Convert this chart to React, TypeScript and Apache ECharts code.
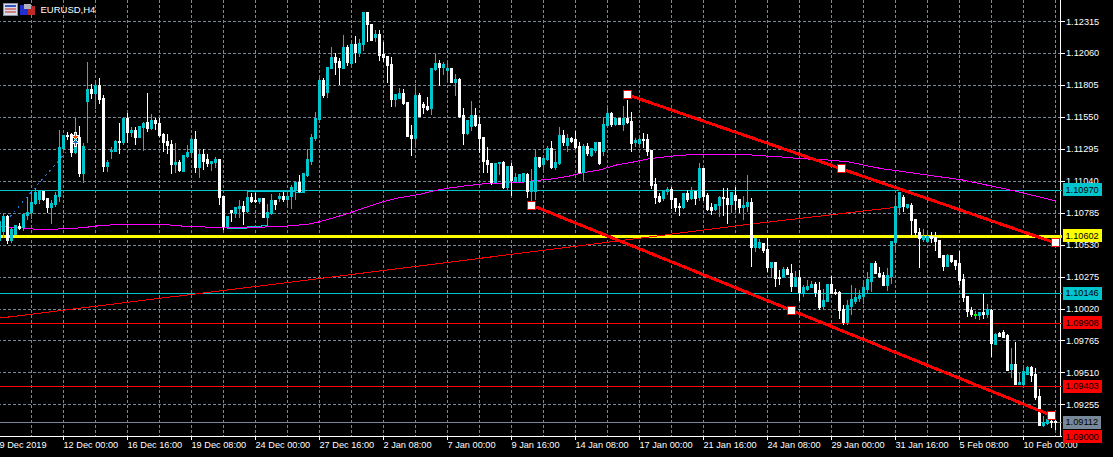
import React, { useEffect, useRef } from "react";
import * as echarts from "echarts";

const tickLabels = ["9 Dec 2019","12 Dec 00:00","16 Dec 16:00","19 Dec 08:00","24 Dec 00:00","27 Dec 16:00","2 Jan 08:00","7 Jan 00:00","9 Jan 16:00","14 Jan 08:00","17 Jan 00:00","21 Jan 16:00","24 Jan 08:00","29 Jan 00:00","31 Jan 16:00","5 Feb 08:00","10 Feb 00:00"];

const opens = [
1.10562,1.10634,1.10754,1.10562,1.10610,1.10674,1.10666,1.10762,1.10786,1.10858,
1.10890,1.10954,1.10898,1.10826,1.10850,1.10914,1.11298,1.11402,1.11410,1.11266,
1.11386,1.11098,1.11674,1.11770,1.11738,1.11802,1.11698,1.11154,1.11274,1.11274,
1.11354,1.11346,1.11538,1.11426,1.11442,1.11386,1.11466,1.11506,1.11458,1.11522,
1.11498,1.11410,1.11354,1.11330,1.11170,1.11186,1.11114,1.11234,1.11266,1.11370,
1.11146,1.11250,1.11210,1.11178,1.11186,1.11210,1.10914,1.10674,1.10802,1.10778,
1.10818,1.10834,1.10794,1.10906,1.10882,1.10874,1.10898,1.10746,1.10778,1.10882,
1.10898,1.10914,1.10890,1.10914,1.10970,1.11026,1.10946,1.11082,1.11194,1.11378,
1.11530,1.11842,1.11746,1.11938,1.12026,1.11994,1.11938,1.12106,1.11978,1.12130,
1.12058,1.12130,1.12386,1.12290,1.12186,1.12210,1.12050,1.12034,1.11970,1.11690,
1.11698,1.11738,1.11666,1.11402,1.11378,1.11722,1.11650,1.11634,1.11618,1.11930,
1.11978,1.11946,1.11922,1.11938,1.11826,1.11850,1.11562,1.11418,1.11474,1.11562,
1.11490,1.11386,1.11202,1.11178,1.11026,1.11178,1.11186,1.10986,1.11154,1.11034,
1.11034,1.11034,1.11090,1.10954,1.10954,1.11226,1.11170,1.11210,1.11298,1.11146,
1.11178,1.11402,1.11322,1.11378,1.11370,1.11314,1.11106,1.11314,1.11242,1.11282,
1.11346,1.11274,1.11482,1.11578,1.11490,1.11538,1.11490,1.11538,1.11514,1.11346,
1.11338,1.11370,1.11370,1.11282,1.11010,1.10914,1.10898,1.10954,1.10970,1.10898,
1.10834,1.10826,1.10938,1.10898,1.10954,1.10906,1.11138,1.10922,1.10826,1.10810,
1.10842,1.10906,1.10898,1.10850,1.10922,1.10890,1.10826,1.10834,1.10866,1.10506,
1.10506,1.10538,1.10490,1.10354,1.10386,1.10274,1.10274,1.10338,1.10306,1.10202,
1.10274,1.10154,1.10178,1.10194,1.10218,1.10170,1.10042,1.10082,1.10218,1.10154,
1.10154,1.10018,1.09914,1.10042,1.10082,1.10106,1.10122,1.10178,1.10242,1.10378,
1.10306,1.10290,1.10210,1.10282,1.10546,1.10826,1.10906,1.10826,1.10842,1.10730,
1.10626,1.10570,1.10554,1.10594,1.10586,1.10562,1.10442,1.10362,1.10442,1.10402,
1.10378,1.10258,1.10122,1.10010,1.09970,1.09970,1.09994,1.09978,1.10010,1.09738,
1.09826,1.09834,1.09810,1.09538,1.09578,1.09418,1.09418,1.09498,1.09554,1.09498,
1.09322,1.09090,1.09106,1.09122,1.09122];

const closes = [
1.10714,1.10754,1.10562,1.10650,1.10682,1.10658,1.10770,1.10786,1.10866,1.10946,
1.10954,1.10890,1.10826,1.10858,1.10922,1.11306,1.11402,1.11394,1.11266,1.11370,
1.11098,1.11314,1.11770,1.11738,1.11802,1.11690,1.11154,1.11186,1.11282,1.11354,
1.11346,1.11538,1.11426,1.11442,1.11386,1.11474,1.11498,1.11458,1.11522,1.11498,
1.11402,1.11346,1.11322,1.11170,1.11186,1.11122,1.11242,1.11266,1.11370,1.11146,
1.11250,1.11194,1.11178,1.11194,1.11210,1.10906,1.10674,1.10754,1.10786,1.10826,
1.10834,1.10794,1.10906,1.10874,1.10874,1.10898,1.10746,1.10786,1.10882,1.10850,
1.10914,1.10890,1.10914,1.10986,1.11026,1.10954,1.11098,1.11210,1.11386,1.11538,
1.11842,1.11722,1.11946,1.12026,1.11986,1.11946,1.12106,1.11986,1.12130,1.12066,
1.12138,1.12386,1.12290,1.12162,1.12210,1.12042,1.12026,1.11962,1.11690,1.11730,
1.11738,1.11658,1.11394,1.11378,1.11722,1.11554,1.11626,1.11610,1.11938,1.11978,
1.11946,1.11970,1.11938,1.11826,1.11850,1.11554,1.11418,1.11522,1.11562,1.11482,
1.11378,1.11194,1.11170,1.11026,1.11178,1.11186,1.10986,1.11154,1.11042,1.11066,
1.11090,1.11098,1.10954,1.11034,1.11226,1.11154,1.11218,1.11298,1.11146,1.11186,
1.11402,1.11346,1.11378,1.11354,1.11306,1.11106,1.11314,1.11258,1.11298,1.11346,
1.11178,1.11490,1.11578,1.11490,1.11538,1.11490,1.11538,1.11506,1.11338,1.11362,
1.11370,1.11362,1.11274,1.11002,1.10906,1.10874,1.10954,1.10970,1.10890,1.10826,
1.10826,1.10938,1.10890,1.10954,1.10898,1.11138,1.10914,1.10810,1.10802,1.10850,
1.10906,1.10898,1.10850,1.10946,1.10882,1.10826,1.10842,1.10866,1.10506,1.10578,
1.10546,1.10482,1.10354,1.10386,1.10266,1.10266,1.10338,1.10298,1.10202,1.10274,
1.10154,1.10194,1.10202,1.10218,1.10154,1.10034,1.10090,1.10218,1.10146,1.10146,
1.10010,1.09914,1.10050,1.10098,1.10114,1.10130,1.10194,1.10258,1.10378,1.10306,
1.10282,1.10210,1.10290,1.10554,1.10834,1.10946,1.10834,1.10850,1.10722,1.10626,
1.10578,1.10594,1.10594,1.10578,1.10554,1.10426,1.10362,1.10442,1.10394,1.10370,
1.10250,1.10114,1.10002,1.09978,1.09978,1.09994,1.09978,1.10018,1.09746,1.09818,
1.09802,1.09794,1.09530,1.09578,1.09418,1.09434,1.09522,1.09554,1.09490,1.09314,
1.09090,1.09114,1.09138,1.09114,1.09112];

const lows = [
1.10530,1.10586,1.10538,1.10546,1.10610,1.10650,1.10642,1.10730,1.10738,1.10850,
1.10858,1.10882,1.10786,1.10698,1.10834,1.10874,1.11290,1.11370,1.11234,1.11258,
1.11074,1.11026,1.11346,1.11698,1.11618,1.11658,1.11114,1.11114,1.11218,1.11274,
1.11258,1.11330,1.11346,1.11394,1.11330,1.11386,1.11282,1.11434,1.11450,1.11450,
1.11394,1.11274,1.11258,1.11098,1.11106,1.11114,1.11114,1.11226,1.11234,1.11106,
1.11066,1.11130,1.11154,1.11122,1.11146,1.10850,1.10650,1.10666,1.10714,1.10746,
1.10746,1.10690,1.10786,1.10866,1.10866,1.10858,1.10746,1.10682,1.10770,1.10810,
1.10874,1.10874,1.10826,1.10818,1.10890,1.10946,1.10946,1.11074,1.11170,1.11362,
1.11522,1.11706,1.11706,1.11938,1.11890,1.11810,1.11938,1.11962,1.11970,1.11986,
1.12034,1.12082,1.12154,1.12162,1.12154,1.12002,1.11994,1.11826,1.11634,1.11634,
1.11698,1.11650,1.11394,1.11242,1.11330,1.11554,1.11578,1.11602,1.11570,1.11922,
1.11802,1.11890,1.11850,1.11826,1.11722,1.11546,1.11330,1.11410,1.11442,1.11474,
1.11266,1.11106,1.11106,1.11010,1.11018,1.11090,1.10978,1.10962,1.10922,1.11026,
1.11026,1.11026,1.10906,1.10882,1.10890,1.11146,1.11122,1.11202,1.11138,1.11130,
1.11170,1.11322,1.11274,1.11346,1.11298,1.11098,1.11034,1.11242,1.11234,1.11266,
1.11170,1.11242,1.11474,1.11474,1.11482,1.11490,1.11442,1.11498,1.11274,1.11314,
1.11330,1.11306,1.11242,1.10978,1.10858,1.10866,1.10882,1.10930,1.10818,1.10794,
1.10762,1.10818,1.10874,1.10890,1.10850,1.10882,1.10882,1.10802,1.10770,1.10802,
1.10754,1.10762,1.10698,1.10786,1.10810,1.10786,1.10730,1.10794,1.10354,1.10474,
1.10498,1.10466,1.10314,1.10266,1.10194,1.10210,1.10266,1.10290,1.10154,1.10194,
1.10082,1.10114,1.10162,1.10186,1.10114,1.10010,1.10010,1.10074,1.10146,1.10130,
1.09938,1.09890,1.09890,1.09970,1.10058,1.10074,1.10058,1.10146,1.10154,1.10306,
1.10266,1.10202,1.10162,1.10218,1.10466,1.10770,1.10794,1.10818,1.10586,1.10586,
1.10346,1.10554,1.10554,1.10546,1.10482,1.10426,1.10322,1.10354,1.10386,1.10330,
1.10210,1.10074,1.09954,1.09954,1.09938,1.09930,1.09938,1.09946,1.09634,1.09730,
1.09794,1.09794,1.09522,1.09466,1.09410,1.09410,1.09410,1.09490,1.09434,1.09290,
1.09082,1.09074,1.09090,1.09066,1.09050];

const highs = [
1.10746,1.10778,1.10770,1.10666,1.10690,1.10706,1.10786,1.10914,1.10954,1.10986,
1.10954,1.10954,1.10906,1.10890,1.10954,1.11450,1.11410,1.11434,1.11426,1.11546,
1.11482,1.11346,1.11994,1.11818,1.11826,1.11866,1.11730,1.11210,1.11314,1.11370,
1.11506,1.11538,1.11586,1.11474,1.11474,1.11482,1.11514,1.11746,1.11578,1.11546,
1.11546,1.11426,1.11418,1.11370,1.11346,1.11210,1.11250,1.11330,1.11394,1.11442,
1.11290,1.11298,1.11258,1.11202,1.11234,1.11218,1.10914,1.10754,1.10810,1.10834,
1.10890,1.10882,1.10954,1.10946,1.10946,1.10898,1.10898,1.10858,1.10938,1.10882,
1.10946,1.10954,1.10970,1.11010,1.11042,1.11090,1.11098,1.11298,1.11418,1.11594,
1.11866,1.11866,1.11946,1.12114,1.12066,1.12026,1.12210,1.12130,1.12154,1.12202,
1.12178,1.12386,1.12394,1.12290,1.12250,1.12250,1.12154,1.12042,1.12034,1.11738,
1.11786,1.11778,1.11666,1.11490,1.11818,1.11746,1.11674,1.11714,1.11938,1.12058,
1.12010,1.11994,1.11986,1.11946,1.11898,1.11866,1.11626,1.11530,1.11682,1.11626,
1.11554,1.11386,1.11314,1.11186,1.11186,1.11194,1.11202,1.11162,1.11186,1.11106,
1.11098,1.11098,1.11106,1.11138,1.11298,1.11234,1.11234,1.11322,1.11362,1.11282,
1.11474,1.11450,1.11418,1.11394,1.11442,1.11354,1.11338,1.11346,1.11306,1.11346,
1.11346,1.11554,1.11634,1.11594,1.11538,1.11538,1.11642,1.11690,1.11594,1.11386,
1.11394,1.11426,1.11418,1.11282,1.11066,1.10946,1.10970,1.10994,1.10994,1.10906,
1.10866,1.10946,1.10970,1.10994,1.10954,1.11186,1.11138,1.10946,1.10866,1.10858,
1.10922,1.10986,1.10986,1.10954,1.10994,1.10898,1.10922,1.11090,1.10906,1.10586,
1.10578,1.10546,1.10594,1.10394,1.10394,1.10330,1.10354,1.10354,1.10378,1.10322,
1.10330,1.10210,1.10250,1.10242,1.10234,1.10234,1.10178,1.10218,1.10282,1.10178,
1.10162,1.10050,1.10090,1.10210,1.10186,1.10170,1.10242,1.10314,1.10386,1.10402,
1.10354,1.10314,1.10346,1.10554,1.10914,1.10954,1.10930,1.10858,1.10866,1.10738,
1.10666,1.10658,1.10626,1.10634,1.10634,1.10570,1.10442,1.10458,1.10450,1.10410,
1.10482,1.10298,1.10122,1.10034,1.10002,1.09994,1.10138,1.10058,1.10018,1.09826,
1.09834,1.09850,1.09818,1.09706,1.09754,1.09506,1.09570,1.09562,1.09562,1.09546,
1.09378,1.09162,1.09154,1.09170,1.09146];

const oddBarIndex = 244;

const maBars = [0.1,3.9,8.9,16.4,21.4,25.1,30.1,41.4,46.4,52.6,58.1,65.1,71.4,75.1,77.6,80.1,83.4,87.6,91.9,95.9,100.1,104.4,108.4,112.6,116.9,120.9,125.1,129.4,133.4,137.6,141.9,145.9,150.1,154.4,158.4,162.6,166.9,170.9,179.4,187.6,191.9,195.9,200.1,207.6,212.6,216.9,220.9,225.1,232.6,240.6,252.6,263.9];
const maValues = [1.10676,1.10672,1.10656,1.10658,1.10670,1.10685,1.10694,1.10693,1.10679,1.10672,1.10666,1.10672,1.10680,1.10690,1.10698,1.10716,1.10746,1.10786,1.10834,1.10876,1.10908,1.10930,1.10962,1.10986,1.11004,1.11018,1.11024,1.11028,1.11042,1.11056,1.11076,1.11108,1.11130,1.11170,1.11192,1.11220,1.11236,1.11248,1.11256,1.11250,1.11240,1.11232,1.11220,1.11208,1.11192,1.11162,1.11138,1.11120,1.11086,1.11050,1.10970,1.10884];

const thinRedBars = [0.1,75.1,150.1,187.6,226];
const thinRedValues = [1.09946,1.10242,1.10544,1.10696,1.10838];

const dottedBars = [2.6,17.1];
const dottedValues = [1.10756,1.11290];

const stepABars = [56.95,61.9,61.9,65.4,65.4,67.05,67.05];
const stepAValues = [1.10664,1.10664,1.10674,1.10674,1.10684,1.10684,1.10788];
const stepBBars = [61.95,61.95,69.1,69.1,76.25,76.25];
const stepBValues = [1.10796,1.10956,1.10956,1.10952,1.10952,1.11094];

const upperBars = [157,210.5,264];
const upperValues = [1.1173,1.11138,1.10546];
const lowerBars = [133,198,263];
const lowerValues = [1.10848,1.10008,1.09168];

const levelValues = [1.1097,1.10602,1.10146,1.09908,1.09403,1.09112,1.09];
const levelColors = ["#00C5CC","#FFFF00","#00C5CC","#FF0000","#FF0000","#778899","#FF0000"];
const levelWidths = [1,3,1,1,1,1,0];

const sellArrow = [19,1.11402];
const buyArrow = [19,1.11344];

const CYAN = "#00C5CC";
const GRID = "#778899";
const FONT = "Liberation Sans";
const ARROW_UP = "path://M4 0L8 4L5.5 4L5.5 8L2.5 8L2.5 4L0 4Z";
const ARROW_DOWN = "path://M4 8L8 4L5.5 4L5.5 0L2.5 0L2.5 4L0 4Z";

function pairs(xs: number[], ys: number[]) {
  return xs.map((x, i) => [x, ys[i]]);
}

export default function App() {
  const ref = useRef<HTMLDivElement>(null);
  useEffect(() => {
    document.body.style.margin = "0";
    document.body.style.background = "#000";
    const chart = echarts.init(ref.current!, undefined, { renderer: "svg" });
    const categories = Array.from({ length: 266 }, (_, i) => (i % 16 === 0 ? tickLabels[i / 16] ?? "" : ""));
    const candles = opens.map((o, i) => {
      const value = [o, closes[i], lows[i], highs[i]];
      return i === oddBarIndex
        ? { value, itemStyle: { color: "#00FF00", borderColor: "#00FF00", color0: "#00FF00", borderColor0: "#00FF00" } }
        : value;
    });
    const thin = (name: string, xs: number[], ys: number[], color: string, extra: object = {}, width = 1, z = 2) => ({
      type: "line",
      name,
      xAxisIndex: 1,
      yAxisIndex: 0,
      data: pairs(xs, ys),
      showSymbol: false,
      symbol: "none",
      silent: true,
      z,
      lineStyle: { color, width, ...extra },
    });
    chart.setOption({
      animation: false,
      backgroundColor: "#000000",
      textStyle: { fontFamily: FONT },
      grid: { left: -2.5, width: 1064, top: -10.4, height: 446.9, containLabel: false, outerBoundsMode: "none" },
      xAxis: [
        {
          type: "category",
          data: categories,
          boundaryGap: true,
          position: "bottom",
          axisLine: { show: true, lineStyle: { color: "#FFFFFF", width: 1 } },
          axisTick: { show: true, alignWithLabel: true, length: 3, interval: (i: number) => i % 16 === 0 && i > 0, lineStyle: { color: "#FFFFFF" } },
          axisLabel: { show: true, interval: (i: number) => i % 16 === 0, align: "left", color: "#FFFFFF", fontFamily: FONT, fontSize: 9.2, margin: 4, hideOverlap: false },
          splitLine: { show: true, alignWithLabel: true, interval: (i: number) => i % 8 === 0 && i > 0, lineStyle: { color: GRID, type: [3, 2], width: 1 } },
        },
        { type: "value", min: -0.5, max: 265.5, show: false, splitLine: { show: false }, position: "bottom" },
      ],
      yAxis: {
        type: "value",
        position: "right",
        offset: -1,
        min: 1.09,
        max: 1.1257,
        interval: 0.00255,
        axisLine: { show: true, onZero: false, lineStyle: { color: "#FFFFFF", width: 1 } },
        axisTick: { show: true, length: 4, lineStyle: { color: "#FFFFFF" } },
        axisLabel: { color: "#FFFFFF", fontFamily: FONT, fontSize: 9.2, margin: 5.5, showMinLabel: false, showMaxLabel: false, hideOverlap: false, formatter: (v: number) => v.toFixed(5) },
        splitLine: { show: true, lineStyle: { color: GRID, type: [3, 2], width: 1 } },
      },
      graphic: [
        { type: "rect", z: 100, shape: { x: 3.5, y: 3.5, width: 14, height: 12 }, style: { fill: "#D8DCE8", stroke: "#8890A0", lineWidth: 1 } },
        { type: "rect", z: 101, shape: { x: 5, y: 5, width: 11, height: 2 }, style: { fill: "#3050C0" } },
        { type: "rect", z: 101, shape: { x: 5, y: 8, width: 11, height: 2 }, style: { fill: "#D08080" } },
        { type: "rect", z: 101, shape: { x: 5, y: 11, width: 11, height: 2 }, style: { fill: "#D08080" } },
        { type: "rect", z: 100, shape: { x: 20, y: 5, width: 8, height: 10 }, style: { fill: "#2030D0" } },
        { type: "rect", z: 100, shape: { x: 28, y: 6, width: 7, height: 9 }, style: { fill: "#C02828" } },
        { type: "rect", z: 101, shape: { x: 24, y: 4, width: 7, height: 5 }, style: { fill: "#B0B0B8" } },
        { type: "text", z: 100, x: 40.5, y: 4, style: { text: "EURUSD,H4", fill: "#FFFFFF", font: `9.5px "${FONT}"` } },
      ],
      series: [
        {
          type: "line",
          name: "levels",
          xAxisIndex: 1,
          yAxisIndex: 0,
          data: [],
          silent: true,
          z: 1,
          markLine: {
            silent: true,
            symbol: "none",
            z: 1,
            animation: false,
            precision: 5,
            data: levelValues.map((v, i) => ({
              yAxis: v,
              lineStyle: { color: levelWidths[i] ? levelColors[i] : "transparent", width: levelWidths[i] || 1, type: "solid" },
              label: {
                show: true,
                position: "end",
                distance: 1,
                formatter: v.toFixed(5),
                color: "#000000",
                backgroundColor: levelColors[i],
                padding: [2, 3, 2, 3],
                fontFamily: FONT,
                fontSize: 9.2,
                lineHeight: 9,
              },
            })),
          },
        },
        thin("thin", thinRedBars, thinRedValues, "#FF0000"),
        thin("ma", maBars, maValues, "#FF00FF"),
        thin("stepA", stepABars, stepAValues, CYAN),
        thin("stepB", stepBBars, stepBValues, CYAN),
        thin("path", dottedBars, dottedValues, "#1878D8", { type: [2, 4] }),
        {
          type: "candlestick",
          name: "EURUSD,H4",
          xAxisIndex: 0,
          yAxisIndex: 0,
          data: candles,
          barWidth: 2,
          silent: true,
          z: 3,
          itemStyle: { color: CYAN, color0: "#FFFFFF", borderColor: CYAN, borderColor0: "#FFFFFF", borderWidth: 1 },
        },
        thin("upper", upperBars, upperValues, "#FF0000", {}, 3, 4),
        thin("lower", lowerBars, lowerValues, "#FF0000", {}, 3, 4),
        {
          type: "scatter",
          name: "anchors",
          xAxisIndex: 1,
          yAxisIndex: 0,
          z: 5,
          silent: true,
          symbol: "rect",
          symbolSize: 8,
          itemStyle: { color: "#FFFFFF", borderColor: "#FF0000", borderWidth: 1, opacity: 1 },
          data: [...pairs(upperBars, upperValues), ...pairs(lowerBars, lowerValues)],
        },
        {
          type: "scatter",
          name: "sell",
          xAxisIndex: 1,
          yAxisIndex: 0,
          z: 5,
          silent: true,
          symbol: ARROW_DOWN,
          symbolSize: 7,
          itemStyle: { color: "#FF4500", borderColor: "#FFFFFF", borderWidth: 1, opacity: 1 },
          data: [sellArrow],
        },
        {
          type: "scatter",
          name: "buy",
          xAxisIndex: 1,
          yAxisIndex: 0,
          z: 5,
          silent: true,
          symbol: ARROW_UP,
          symbolSize: 7,
          itemStyle: { color: "#1070C8", borderColor: "#FFFFFF", borderWidth: 1, opacity: 1 },
          data: [buyArrow],
        },
      ],
    });
    return () => chart.dispose();
  }, []);
  return (
    <>
      <style>{"svg path { shape-rendering: crispEdges; }"}</style>
      <div ref={ref} style={{ position: "absolute", left: 0, top: 0, width: 1113, height: 457 }} />
    </>
  );
}
